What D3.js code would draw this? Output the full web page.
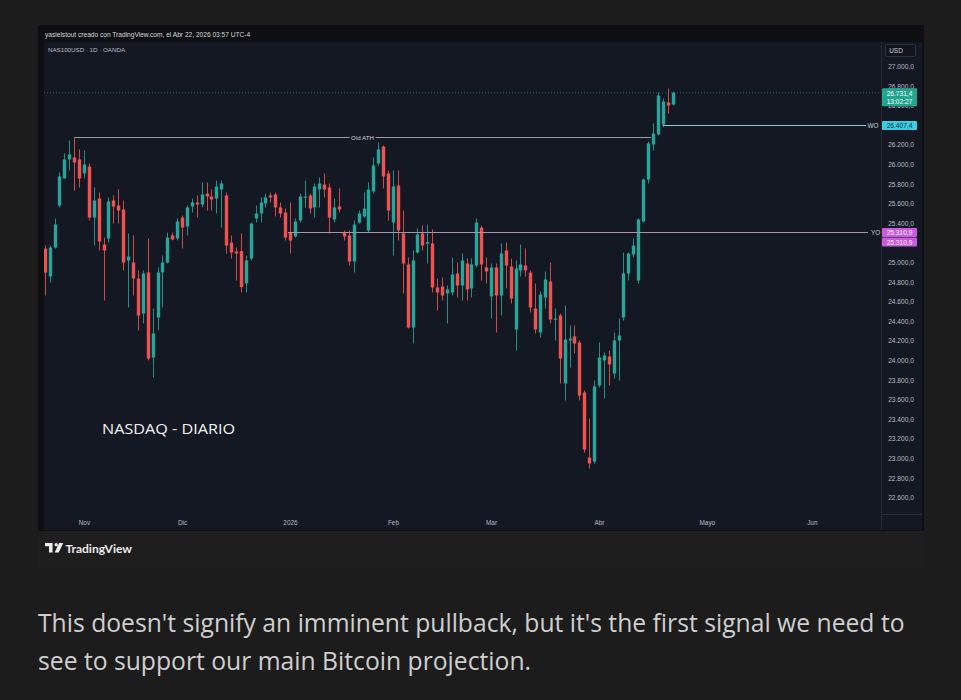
<!DOCTYPE html>
<html><head><meta charset="utf-8">
<script src="https://cdn.jsdelivr.net/npm/d3@7"></script>
<style>
html,body{margin:0;padding:0;background:#1c1c1c;}
svg{display:block}
</style></head>
<body>
<svg id="chart" width="961" height="700"></svg>
<script>
// ---- DATA (NAS100USD, daily, OANDA; bar index 0 = 22 Oct 2025, 128 = 22 Apr 2026) ----
const opens  = [25142,24856,25152,25581,25857,26051,26071,26051,25908,25979,25458,25652,25183,25244,25632,25581,25540,25020,24999,24836,24478,24897,24029,24437,24897,24999,25275,25244,25458,25367,25571,25612,25591,25703,25673,25652,25744,25683,25203,25111,25115,24785,25040,25448,25499,25601,25683,25693,25561,25509,25311,25264,25428,25663,25683,25561,25744,25795,25765,25438,25571,25305,25275,25009,25407,25469,25326,25724,26010,26183,25908,25407,25785,25295,24979,24335,25101,25295,25190,25193,24744,24754,24683,24693,24887,24764,24989,24734,24968,25356,24948,24652,24948,24662,25122,24958,24315,24918,24968,24897,24529,24284,24642,24805,24417,24458,23764,24203,24244,24182,23672,23008,22967,23743,23999,24039,23866,24203,24437,24887,25081,24815,25418,25846,26204,26306,26407.4,26633,26612];
const highs  = [25172,25172,25448,25918,26112,26245,26280,26153,26143,26010,25765,25714,25254,25663,25683,25744,25632,25295,25275,24918,24918,25244,24529,24948,25070,25305,25305,25448,25479,25581,25652,25683,25816,25816,25744,25836,25836,25714,25275,25152,25295,25070,25407,25581,25663,25703,25714,25714,25612,25550,25612,25448,25703,25836,25703,25806,25867,25908,25806,25652,25755,25326,25326,25428,25530,25714,25816,26071,26224,26194,25938,25938,25938,25530,25050,25122,25346,25377,25387,25336,24836,24846,24764,25050,24999,25091,25040,25040,25448,25377,25050,24989,24989,25193,25203,25040,25020,25183,25142,24918,24785,24703,24907,24999,24529,24478,24560,24356,24356,24203,23692,23406,23794,24182,24080,24101,24284,24427,25101,25101,25244,25448,25857,26235,26418,26735,26673,26776,26745];
const lows   = [24662,24795,25142,25561,25857,25938,25734,25765,25857,25428,25172,25122,24611,25203,25397,25397,24918,24540,24662,24305,24376,23999,23825,24305,24540,24989,25224,25224,25142,25275,25509,25458,25561,25530,25530,25499,25356,25091,25040,24815,24693,24693,25020,25407,25407,25561,25612,25469,25458,25224,25091,25254,25407,25561,25499,25458,25561,25663,25295,25407,25509,25224,24968,24897,25397,25458,25305,25703,25989,25755,25428,25070,25224,24683,24325,24172,25091,25122,24989,24693,24509,24611,24376,24662,24642,24611,24611,24642,24948,24815,24785,24427,24284,24458,24733,24580,24101,24856,24856,24489,24274,24233,24529,24376,24203,23764,23590,23927,24070,23590,23059,22896,22947,23723,23611,23743,23815,23794,24407,24815,25050,24785,25407,25806,26143,26296,26378,26520,26602];
const closes = [24897,25152,25387,25877,26051,26102,26020,25857,26000,25458,25632,25213,25122,25622,25571,25530,24999,25060,24836,24458,24887,24019,24274,24897,24999,25254,25234,25418,25356,25561,25612,25591,25693,25673,25642,25775,25806,25172,25101,25091,24747,25020,25397,25499,25612,25663,25663,25561,25499,25254,25224,25418,25673,25673,25550,25775,25806,25744,25458,25561,25540,25264,25009,25387,25499,25550,25744,25989,26153,25877,25530,25775,25326,24989,24335,25020,25285,25172,25206,24744,24693,24662,24723,24877,24764,25020,24723,24979,25407,24979,24907,24948,24662,25091,24968,24631,24938,24979,24918,24540,24315,24672,24826,24417,24427,24019,24213,24223,24172,23641,23090,22947,23733,24029,24050,23958,24203,24254,24887,25091,25173,25438,25846,26214,26316,26704,26643,26602,26731.4];

const timeLabels   = ["Nov","Dic","2026","Feb","Mar","Abr","Mayo","Jun"];
const timeLabelBar = [8,28,50,71,91,113,135,156.4];
const priceTicks   = d3.range(22600, 27000.1, 200);

const oldATH = 26280, oldATHFrom = 6, oldATHTo = 123.6;
const yearOpen = 25310.9, yearOpenBar = 50;
const weekOpen = 26407.4, weekOpenBar = 126;
const lastPrice = 26731.4, countdown = "13:02:27";

const headerText = "yasielstout creado con TradingView.com, el Abr 22, 2026 03:57 UTC-4";
const symbolText = "NAS100USD · 1D · OANDA";
const titleText  = "NASDAQ - DIARIO";
const bodyLines  = ["This doesn't signify an imminent pullback, but it's the first signal we need to",
                    "see to support our main Bitcoin projection."];

// ---- LAYOUT ----
const svg = d3.select("#chart");
const W = 961, H = 700;
const frame = {x0:38, y0:25, x1:924, y1:567};
const pane  = {x0:44, y0:42, x1:880, y1:515};
const axisR = 922;
const UP = "#26a69a", DOWN = "#ef5350";
const fontUI = "'Liberation Sans', Arial, sans-serif";

const loc = d3.formatLocale({decimal:",", thousands:".", grouping:[3], currency:["",""]});
const fmt = loc.format(",.1f");

const x = d3.scaleLinear().domain([0, 170.3]).range([44.7, 880]);
const y = d3.scaleLinear().domain([22600, 27000]).range([497.5, 66.5]);

// background pieces
svg.append("rect").attr("width",W).attr("height",H).attr("fill","#1c1c1c");
svg.append("rect").attr("x",frame.x0).attr("y",frame.y0).attr("width",frame.x1-frame.x0).attr("height",frame.y1-frame.y0).attr("fill","#0e0f12");
svg.append("rect").attr("x",44).attr("y",42).attr("width",axisR-44).attr("height",530-42).attr("fill","#141823");
svg.append("rect").attr("x",frame.x0).attr("y",531).attr("width",frame.x1-frame.x0).attr("height",frame.y1-531).attr("fill","#1e1e1e");

// header
svg.append("text").attr("x",45).attr("y",37).attr("fill","#d8d8d8").attr("font-family",fontUI).attr("font-size",6.6).text(headerText);

// price axis separators
svg.append("line").attr("x1",pane.x1+1.5).attr("x2",pane.x1+1.5).attr("y1",42).attr("y2",530).attr("stroke","#252a36");
svg.append("line").attr("x1",pane.x1+1.5).attr("x2",axisR).attr("y1",514.5).attr("y2",514.5).attr("stroke","#2a2f3b");

// clip
svg.append("defs").append("clipPath").attr("id","plotclip").append("rect")
  .attr("x",pane.x0).attr("y",pane.y0).attr("width",pane.x1-pane.x0).attr("height",pane.y1-pane.y0);
const plot = svg.append("g").attr("clip-path","url(#plotclip)");

// symbol legend
svg.append("text").attr("x",48).attr("y",51.5).attr("fill","#b8bcc6").attr("font-family",fontUI).attr("font-size",6.2).text(symbolText);

// current price dotted line
plot.append("line").attr("x1",pane.x0).attr("x2",pane.x1).attr("y1",y(lastPrice)).attr("y2",y(lastPrice))
  .attr("stroke",UP).attr("stroke-opacity",0.55).attr("stroke-dasharray","1,2");

// Old ATH line with centered label
const athY = Math.round(y(oldATH))+0.5;
const midX = (x(oldATHFrom)+x(oldATHTo))/2;
plot.append("line").attr("x1",x(oldATHFrom)).attr("x2",midX-13).attr("y1",athY).attr("y2",athY).attr("stroke","#9a9ea8").attr("stroke-width",1);
plot.append("line").attr("x1",midX+13).attr("x2",x(oldATHTo)).attr("y1",athY).attr("y2",athY).attr("stroke","#9a9ea8").attr("stroke-width",1);
plot.append("text").attr("x",midX).attr("y",athY+2.2).attr("text-anchor","middle").attr("fill","#d0d3da")
  .attr("font-family",fontUI).attr("font-size",6.2).text("Old  ATH");

// YO / WO lines
const yoY = Math.round(y(yearOpen))+0.5, woY = Math.round(y(weekOpen))+0.5;
svg.append("line").attr("x1",x(yearOpenBar)-2).attr("x2",868).attr("y1",yoY).attr("y2",yoY).attr("stroke","#a593ad").attr("stroke-width",1);
svg.append("line").attr("x1",x(weekOpenBar)).attr("x2",866).attr("y1",woY).attr("y2",woY).attr("stroke","#8fc4d2").attr("stroke-width",1);
svg.append("text").attr("x",875.5).attr("y",yoY+2.3).attr("text-anchor","middle").attr("fill","#c9c9d2").attr("font-family",fontUI).attr("font-size",6.4).text("YO");
svg.append("text").attr("x",873).attr("y",woY+2.3).attr("text-anchor","middle").attr("fill","#b9d6de").attr("font-family",fontUI).attr("font-size",6.4).text("WO");

// candles
const bars = d3.range(opens.length).map(i => ({i, o:opens[i], h:highs[i], l:lows[i], c:closes[i]}));
const bw = 3.4;
const g = plot.append("g");
g.selectAll("line.wick").data(bars).join("line").attr("class","wick")
  .attr("x1",d=>Math.round(x(d.i))+0.5).attr("x2",d=>Math.round(x(d.i))+0.5)
  .attr("y1",d=>y(d.h)).attr("y2",d=>y(d.l))
  .attr("stroke",d=>d.c>=d.o?UP:DOWN).attr("stroke-width",1).attr("stroke-opacity",0.85);
g.selectAll("rect.body").data(bars).join("rect").attr("class","body")
  .attr("x",d=>Math.round(x(d.i))+0.5-bw/2).attr("width",bw)
  .attr("y",d=>y(Math.max(d.o,d.c)))
  .attr("height",d=>Math.max(1.2, Math.abs(y(d.o)-y(d.c))))
  .attr("fill",d=>d.c>=d.o?UP:DOWN);

// title text
svg.append("text").attr("x",102).attr("y",434).attr("fill","#f2f2f2").attr("font-family","'Open Sans', sans-serif")
  .attr("font-size",14.5).attr("font-weight",500).attr("textLength",133).attr("lengthAdjust","spacingAndGlyphs").text(titleText);

// price axis
const yAxis = d3.axisRight(y).tickValues(priceTicks).tickFormat(fmt).tickSize(0).tickPadding(0);
const ya = svg.append("g").attr("transform","translate(901,0)").call(yAxis);
ya.select(".domain").remove();
ya.selectAll("text").attr("text-anchor","middle").attr("fill","#b8bcc6").attr("font-family",fontUI).attr("font-size",6.6);

// time axis
const xAxis = d3.axisBottom(x).tickValues(timeLabelBar).tickFormat((d,i)=>timeLabels[i]).tickSize(0).tickPadding(0);
const xa = svg.append("g").attr("transform","translate(0,520)").call(xAxis);
xa.select(".domain").remove();
xa.selectAll("text").attr("fill","#b8bcc6").attr("font-family",fontUI).attr("font-size",6.4);

// USD box
svg.append("rect").attr("x",885.5).attr("y",44.5).attr("width",30).attr("height",12).attr("rx",1.5).attr("fill","#12151d").attr("stroke","#2d3240");
svg.append("text").attr("x",896).attr("y",53).attr("text-anchor","middle").attr("fill","#d0d3da").attr("font-family",fontUI).attr("font-size",6.4).text("USD");

// price badges
function badge(yc, h, fill, lines, txtFill){
  svg.append("rect").attr("x",882).attr("y",yc-h/2).attr("width",35).attr("height",h).attr("rx",1).attr("fill",fill);
  lines.forEach((t,k)=>{
    svg.append("text").attr("x",899.5).attr("y",yc-h/2+7.3+k*8.2).attr("text-anchor","middle")
      .attr("fill",txtFill).attr("font-family",fontUI).attr("font-size",6.6).text(t);
  });
}
badge(y(lastPrice)+4.5, 18, "#22a58f", [fmt(lastPrice), countdown], "#f4fffd");
badge(woY, 9, "#3dcde0", [fmt(weekOpen)], "#0b2a33");
badge(yoY, 9, "#c85cdc", [fmt(yearOpen)], "#fbeeff");
badge(yoY+9.5, 9, "#c85cdc", [fmt(yearOpen)], "#fbeeff");

// TradingView logo
const lg = svg.append("g").attr("fill","#ececec");
lg.append("path").attr("d","M45 543 h7.6 v9.4 h-3.6 v-6.2 h-4 z");
lg.append("circle").attr("cx",56.2).attr("cy",544.8).attr("r",1.7);
lg.append("path").attr("d","M59.2 543 h4.1 l-4.6 9.4 h-4.1 z");
svg.append("text").attr("x",65.5).attr("y",552.5).attr("fill","#ececec").attr("font-family","Lato, 'Open Sans', sans-serif")
  .attr("font-weight",700).attr("font-size",11.5).attr("textLength",66.5).attr("lengthAdjust","spacingAndGlyphs").text("TradingView");

// body text
const widths = [867, null];
const bt = svg.append("g").attr("fill","#cfcfcf").attr("font-family","'Open Sans', sans-serif");
const t1 = bt.append("text").attr("x",38).attr("y",632).attr("font-size",23).text(bodyLines[0]);
const t2 = bt.append("text").attr("x",38).attr("y",669.5).attr("font-size",23).text(bodyLines[1]);
const w1 = t1.node().getComputedTextLength();
const fs = 23*867/w1;
t1.attr("font-size",fs); t2.attr("font-size",fs);
</script>
</body></html>
